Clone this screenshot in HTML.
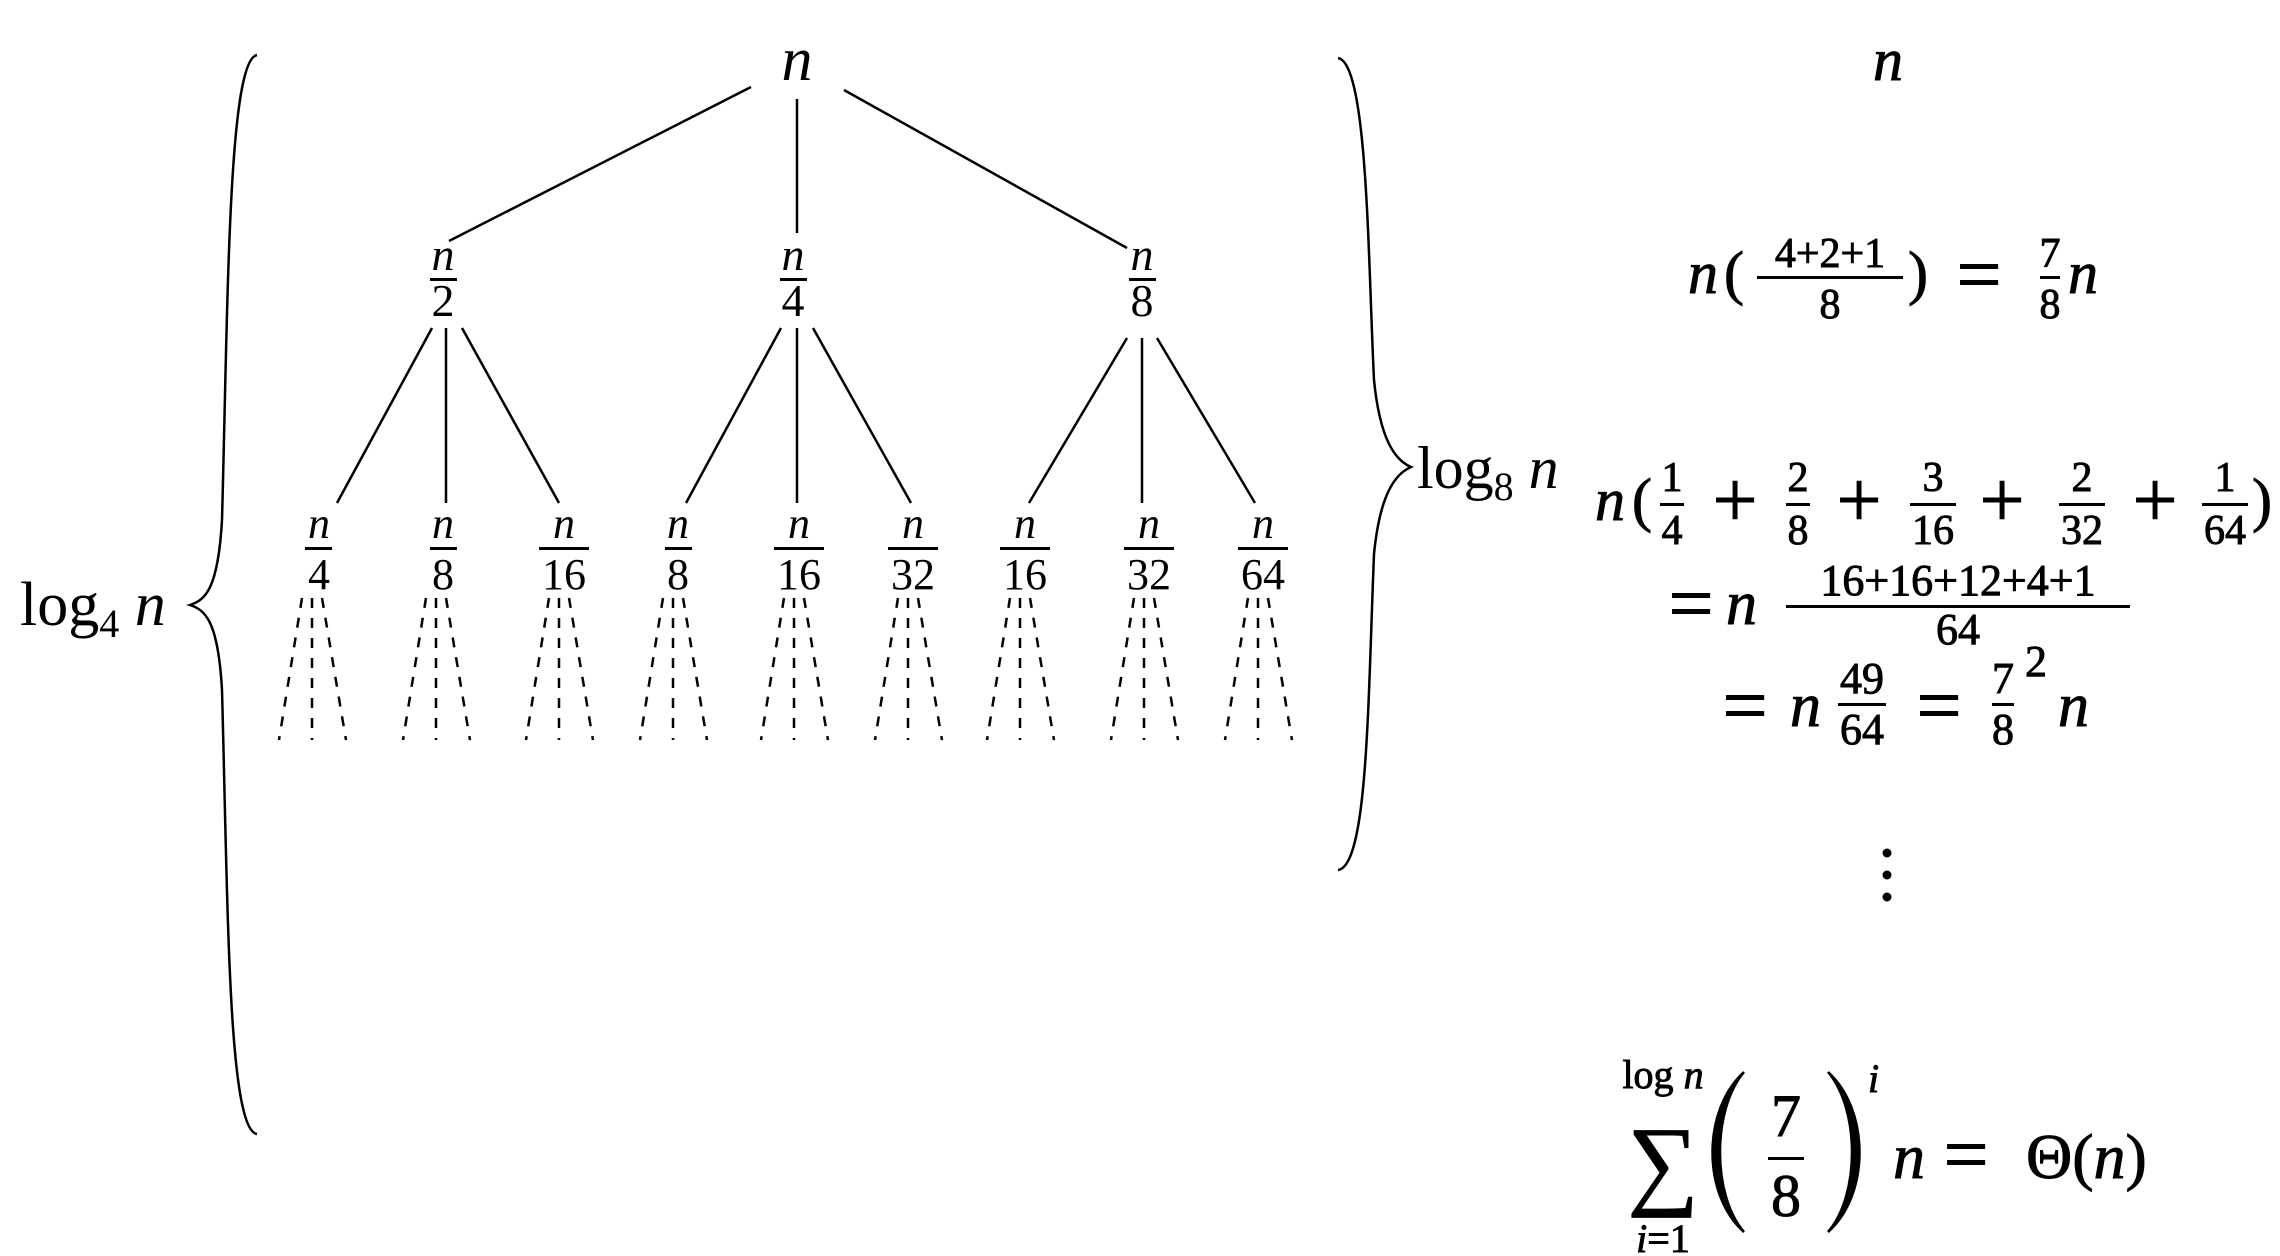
<!DOCTYPE html>
<html><head><meta charset="utf-8"><style>
html,body{margin:0;padding:0;background:#fff;}
svg{display:block;}
text{font-family:"Liberation Serif",serif;fill:#000;}
.i{font-style:italic;}
.r text{stroke:#000;stroke-width:0.9;}
</style></head><body>
<svg width="2280" height="1256" viewBox="0 0 2280 1256" xmlns="http://www.w3.org/2000/svg">
<g stroke="#000" stroke-width="2.5" fill="none">
<line x1="751" y1="87" x2="449" y2="241"/>
<line x1="797" y1="99" x2="797" y2="233"/>
<line x1="844" y1="90" x2="1127" y2="248"/>
<line x1="432" y1="328" x2="337" y2="503"/>
<line x1="446" y1="328" x2="446" y2="503"/>
<line x1="462" y1="328" x2="559" y2="503"/>
<line x1="781" y1="328" x2="686" y2="503"/>
<line x1="797" y1="328" x2="797" y2="503"/>
<line x1="813" y1="328" x2="911" y2="503"/>
<line x1="1127" y1="338" x2="1029" y2="503"/>
<line x1="1142" y1="338" x2="1142" y2="503"/>
<line x1="1157" y1="338" x2="1255" y2="503"/>
<path d="M257,55 C228,60 228,300 222,520 C218,590 205,600 190,605 C205,610 218,620 222,690 C228,910 228,1130 257,1134"/>
<path d="M1338,58 C1368,63 1368,260 1374,380 C1380,440 1395,460 1411,467 C1395,474 1380,494 1374,554 C1368,700 1368,866 1338,870"/>
</g>
<g stroke="#000" stroke-width="2.5" stroke-dasharray="10,10" fill="none">
<g id="d"><line x1="302" y1="598" x2="279" y2="740"/><line x1="312" y1="598" x2="312" y2="740"/><line x1="322" y1="598" x2="346" y2="740"/></g>
<use href="#d" x="124"/><use href="#d" x="247"/><use href="#d" x="361"/><use href="#d" x="482"/><use href="#d" x="596"/><use href="#d" x="708"/><use href="#d" x="832"/><use href="#d" x="946"/>
</g>
<text x="797" y="80" font-size="62" class="i" text-anchor="middle">n</text>
<g font-size="46" text-anchor="middle">
<text x="443" y="270" class="i">n</text><rect x="430" y="278" width="27" height="3"/><text x="443" y="316">2</text>
<text x="793" y="270" class="i">n</text><rect x="780" y="278" width="27" height="3"/><text x="793" y="316">4</text>
<text x="1142" y="270" class="i">n</text><rect x="1129" y="278" width="27" height="3"/><text x="1142" y="316">8</text>
</g>
<g font-size="44" text-anchor="middle">
<text x="319" y="538" class="i">n</text><rect x="305" y="547" width="27" height="3"/><text x="319" y="589">4</text>
<text x="443" y="538" class="i">n</text><rect x="430" y="547" width="27" height="3"/><text x="443" y="589">8</text>
<text x="564" y="538" class="i">n</text><rect x="539" y="547" width="50" height="3"/><text x="564" y="589">16</text>
<text x="678" y="538" class="i">n</text><rect x="665" y="547" width="27" height="3"/><text x="678" y="589">8</text>
<text x="799" y="538" class="i">n</text><rect x="774" y="547" width="50" height="3"/><text x="799" y="589">16</text>
<text x="913" y="538" class="i">n</text><rect x="888" y="547" width="50" height="3"/><text x="913" y="589">32</text>
<text x="1025" y="538" class="i">n</text><rect x="1000" y="547" width="50" height="3"/><text x="1025" y="589">16</text>
<text x="1149" y="538" class="i">n</text><rect x="1124" y="547" width="50" height="3"/><text x="1149" y="589">32</text>
<text x="1263" y="538" class="i">n</text><rect x="1238" y="547" width="50" height="3"/><text x="1263" y="589">64</text>
</g>
<text x="20" y="625" font-size="62">log<tspan font-size="40" dy="12">4</tspan><tspan class="i" dy="-12"> n</tspan></text>
<text x="1417" y="488" font-size="60">log<tspan font-size="40" dy="12">8</tspan><tspan class="i" dy="-12"> n</tspan></text>

<g class="r">
<text x="1888" y="80" font-size="60" class="i" text-anchor="middle">n</text>
<g font-size="60">
<text x="1688" y="293" class="i">n</text><text x="1724" y="293">(</text><text x="1908" y="293">)</text><text x="2068" y="293" class="i">n</text>
</g>
<g font-size="80" text-anchor="middle">
<text x="1979" y="301">=</text>
<text x="1735" y="527">+</text><text x="1859" y="527">+</text><text x="2002" y="527">+</text><text x="2155" y="527">+</text>
<text x="1691" y="630">=</text>
<text x="1745" y="732">=</text><text x="1939" y="732">=</text>
<text x="1966" y="1181">=</text>
</g>
<g font-size="42" text-anchor="middle">
<text x="1830" y="267">4+2+1</text><rect x="1757" y="276" width="146" height="3"/><text x="1830" y="318">8</text>
<text x="2050" y="267">7</text><rect x="2040" y="276" width="20" height="3"/><text x="2050" y="318">8</text>
</g>
<g font-size="60">
<text x="1595" y="520" class="i">n</text><text x="1632" y="520">(</text>
<text x="2252" y="520">)</text>
</g>
<g font-size="42" text-anchor="middle">
<text x="1672" y="491">1</text><rect x="1660" y="503" width="24" height="3"/><text x="1672" y="544">4</text>
<text x="1798" y="491">2</text><rect x="1786" y="503" width="24" height="3"/><text x="1798" y="544">8</text>
<text x="1933" y="491">3</text><rect x="1910" y="503" width="46" height="3"/><text x="1933" y="544">16</text>
<text x="2082" y="491">2</text><rect x="2059" y="503" width="46" height="3"/><text x="2082" y="544">32</text>
<text x="2225" y="491">1</text><rect x="2202" y="503" width="46" height="3"/><text x="2225" y="544">64</text>
</g>
<g font-size="62">
<text x="1726" y="624" class="i">n</text>
<text x="1790" y="726" class="i">n</text><text x="2058" y="726" class="i">n</text>
</g>
<g font-size="44" text-anchor="middle">
<text x="1958" y="595">16+16+12+4+1</text><rect x="1786" y="605" width="344" height="3"/><text x="1958" y="644">64</text>
<text x="1862" y="693">49</text><rect x="1838" y="703" width="48" height="3"/><text x="1862" y="744">64</text>
<text x="2003" y="693">7</text><rect x="1992" y="703" width="22" height="3"/><text x="2003" y="744">8</text>
<text x="2036" y="676">2</text>
</g>
<text x="1663" y="1196" font-size="100" text-anchor="middle">∑</text>
<text x="1663" y="1088" font-size="40" text-anchor="middle">log <tspan class="i">n</tspan></text>
<text x="1663" y="1252" font-size="40" text-anchor="middle"><tspan class="i">i</tspan>=1</text>
<text x="1786" y="1136" font-size="60" text-anchor="middle">7</text><rect x="1768" y="1157" width="36" height="3"/><text x="1786" y="1216" font-size="60" text-anchor="middle">8</text>
<text x="1868" y="1092" font-size="40" class="i">i</text>
<g font-size="64"><text x="1893" y="1178" class="i">n</text><text x="2026" y="1178">Θ(<tspan class="i">n</tspan>)</text></g>
</g>
<path d="M1744,1072 C1702,1110 1702,1195 1744,1232 C1712,1195 1712,1110 1744,1072 Z" stroke="#000" stroke-width="2.5" fill="#000"/>
<path d="M1828,1072 C1870,1110 1870,1195 1828,1232 C1860,1195 1860,1110 1828,1072 Z" stroke="#000" stroke-width="2.5" fill="#000"/>
<circle cx="1887" cy="853" r="4.5"/><circle cx="1887" cy="875" r="4.5"/><circle cx="1887" cy="897" r="4.5"/>
</svg>
</body></html>
